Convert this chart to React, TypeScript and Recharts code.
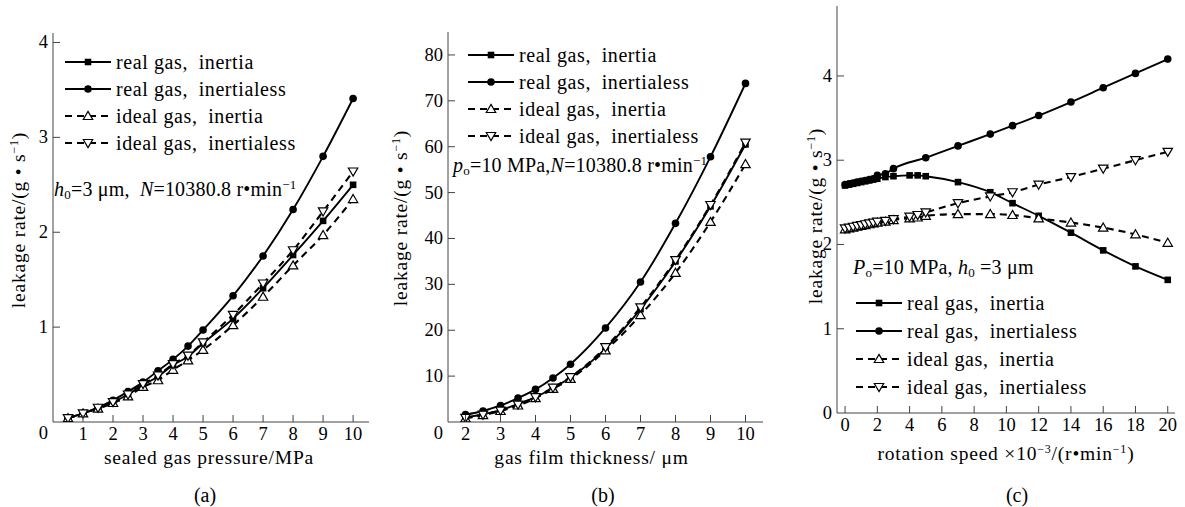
import React from "react";
import { LineChart, Line, XAxis, YAxis, Legend } from "recharts";

const FONT = "'Liberation Serif', 'Times New Roman', serif";
const INK = "#000";
const AXIS = "#444";

// (a) leakage rate vs sealed gas pressure (MPa)
const pressure = [0.5, 1, 1.5, 2, 2.5, 3, 3.5, 4, 4.5, 5, 6, 7, 8, 9, 10];
const realInertiaA = [0.04, 0.09, 0.15, 0.21, 0.29, 0.39, 0.48, 0.6, 0.69, 0.83, 1.09, 1.41, 1.76, 2.12, 2.5];
const realInertialessA = [0.04, 0.09, 0.15, 0.23, 0.32, 0.42, 0.54, 0.66, 0.8, 0.97, 1.33, 1.75, 2.24, 2.8, 3.41];
const idealInertiaA = [0.04, 0.09, 0.14, 0.2, 0.27, 0.37, 0.44, 0.55, 0.65, 0.76, 1.02, 1.32, 1.65, 1.97, 2.35];
const idealInertialessA = [0.04, 0.09, 0.15, 0.21, 0.29, 0.4, 0.49, 0.61, 0.7, 0.84, 1.13, 1.46, 1.81, 2.22, 2.64];

// (b) leakage rate vs gas film thickness (um)
const thickness = [2, 2.5, 3, 3.5, 4, 4.5, 5, 6, 7, 8, 9, 10];
const realInertiaB = [1.0, 1.7, 2.6, 3.9, 5.4, 7.4, 9.7, 16.0, 24.6, 35.0, 47.0, 60.5];
const realInertialessB = [1.6, 2.4, 3.6, 5.2, 7.1, 9.6, 12.6, 20.5, 30.5, 43.3, 57.8, 73.8];
const idealInertiaB = [0.8, 1.5, 2.4, 3.6, 5.2, 7.2, 9.4, 15.6, 23.3, 32.5, 43.6, 56.2];
const idealInertialessB = [0.9, 1.6, 2.5, 3.8, 5.4, 7.5, 9.8, 16.3, 25.0, 35.3, 47.3, 60.9];

// (c) leakage rate vs rotation speed (x10^3 r/min)
const speed = [0, 0.25, 0.5, 0.75, 1, 1.25, 1.5, 1.75, 2, 2.5, 3, 4, 4.5, 5, 7, 9, 10.38, 12, 14, 16, 18, 20];
const realInertiaC = [2.7, 2.71, 2.72, 2.73, 2.74, 2.75, 2.76, 2.77, 2.78, 2.8, 2.81, 2.82, 2.82, 2.81, 2.74, 2.62, 2.49, 2.34, 2.14, 1.93, 1.74, 1.58];
const realInertialessC = [2.71, 2.72, 2.73, 2.74, 2.75, 2.76, 2.77, 2.78, 2.82, 2.84, 2.9, null, null, 3.03, 3.17, 3.31, 3.41, 3.53, 3.69, 3.86, 4.03, 4.2];
const idealInertiaC = [2.18, 2.19, 2.2, 2.21, 2.22, 2.23, 2.24, 2.25, 2.26, 2.27, 2.29, 2.31, 2.32, 2.34, 2.36, 2.36, 2.35, 2.31, 2.26, 2.2, 2.12, 2.02];
const idealInertialessC = [2.19, 2.2, 2.21, 2.22, 2.23, 2.24, 2.25, 2.26, 2.27, 2.28, 2.3, 2.33, 2.35, 2.38, 2.49, 2.57, 2.62, 2.71, 2.8, 2.9, 3.0, 3.1];

const SERIES = [
  { key: "realInertia", name: "real gas,\u2002inertia", shape: "square", dash: undefined, width: 1.9 },
  { key: "realInertialess", name: "real gas,\u2002inertialess", shape: "circle", dash: undefined, width: 1.9 },
  { key: "idealInertia", name: "ideal gas,\u2002inertia", shape: "up", dash: "7 5", width: 2.1 },
  { key: "idealInertialess", name: "ideal gas,\u2002inertialess", shape: "down", dash: "7 5", width: 2.1 },
];

const build = (xs: number[], a: any[], b: any[], c: any[], d: any[]) =>
  xs.map((x, i) => ({ x, realInertia: a[i], realInertialess: b[i], idealInertia: c[i], idealInertialess: d[i] }));

const rowsA = build(pressure, realInertiaA, realInertialessA, idealInertiaA, idealInertialessA);
const rowsB = build(thickness, realInertiaB, realInertialessB, idealInertiaB, idealInertialessB);
const rowsC = build(speed, realInertiaC, realInertialessC, idealInertiaC, idealInertialessC);

function Marker({ cx, cy, shape }: { cx: number; cy: number; shape: string }) {
  if (cx == null || cy == null || isNaN(cy)) return null;
  if (shape === "square") return <rect x={cx - 3.3} y={cy - 3.3} width={6.6} height={6.6} fill={INK} />;
  if (shape === "circle") return <circle cx={cx} cy={cy} r={3.8} fill={INK} />;
  const h = shape === "up" ? 1 : -1;
  const d = `M${cx},${cy - 4.6 * h}L${cx + 4.7},${cy + 3.5 * h}L${cx - 4.7},${cy + 3.5 * h}Z`;
  return <path d={d} fill="#fff" stroke={INK} strokeWidth={1.2} />;
}

const XTick = (props: any) => {
  const { x, y, payload } = props;
  return (
    <g>
      <line x1={x} x2={x} y1={y - 5} y2={y - 12} stroke={AXIS} />
      <text x={x} y={y} dy={13} textAnchor="middle" fontSize={18.5} fontFamily={FONT} fill={INK}>
        {payload.value}
      </text>
    </g>
  );
};

const makeYTick = (zeroDrop: number) => (props: any) => {
  const { x, y, payload } = props;
  const zero = payload.value === 0;
  return (
    <g>
      {!zero && <line x1={x + 5} x2={x + 12} y1={y} y2={y} stroke={AXIS} />}
      <text x={x} y={y + (zero ? zeroDrop : 0)} dy={6} textAnchor="end" fontSize={18.5} fontFamily={FONT} fill={INK}>
        {payload.value}
      </text>
    </g>
  );
};

const yTitle = (cx: number, cy: number) => () =>
  (
    <text
      transform={`translate(${cx},${cy}) rotate(-90)`}
      textAnchor="middle"
      dy={6}
      fontSize={19.5}
      letterSpacing={0.8}
      fontFamily={FONT}
      fill={INK}
    >
      leakage rate/(g • s
      <tspan dy={-7} fontSize={12}>
        −1
      </tspan>
      <tspan dy={7}>)</tspan>
    </text>
  );

const xTitle = (dx: number, dy: number, content: React.ReactNode) => (p: any) => {
  const vb = p.viewBox;
  return (
    <text
      x={vb.x + vb.width / 2 + dx}
      y={vb.y + dy}
      dy={6}
      textAnchor="middle"
      fontSize={19.5}
      letterSpacing={0.8}
      fontFamily={FONT}
      fill={INK}
    >
      {content}
    </text>
  );
};

const renderLegend = (rowH: number) => () =>
  (
    <div style={{ fontFamily: FONT, fontSize: 20, color: INK, letterSpacing: 0.6, lineHeight: 1 }}>
      {SERIES.map((s) => (
        <div key={s.key} style={{ display: "flex", alignItems: "center", height: rowH }}>
          <svg width={46} height={12} style={{ overflow: "visible", flex: "none" }}>
            <line x1={0} y1={6} x2={46} y2={6} stroke={INK} strokeWidth={s.width} strokeDasharray={s.dash} />
            <Marker cx={23} cy={6} shape={s.shape} />
          </svg>
          <span style={{ marginLeft: 5, whiteSpace: "nowrap" }}>{s.name}</span>
        </div>
      ))}
    </div>
  );

type PanelProps = {
  left: number;
  width: number;
  top: number;
  bottom: number;
  plotLeft: number;
  plotRight: number;
  rows: any[];
  xDomain: number[];
  yDomain: number[];
  xTicks: number[];
  yTicks: number[];
  zeroDrop: number;
  xLabel: any;
  yLabel: any;
  legendLeft: number;
  legendTop: number;
  rowH: number;
  note: React.ReactNode;
  noteLeft: number;
  noteTop: number;
  caption: string;
  captionX: number;
};

function Panel(p: PanelProps) {
  const H = 470;
  return (
    <div style={{ position: "absolute", left: p.left, top: 0, width: p.width, height: 507 }}>
      <LineChart
        width={p.width}
        height={H}
        data={p.rows}
        margin={{ top: p.top, right: p.width - p.plotRight, bottom: 0, left: 0 }}
      >
        <XAxis
          dataKey="x"
          type="number"
          domain={p.xDomain}
          ticks={p.xTicks}
          interval={0}
          allowDataOverflow
          height={H - p.bottom}
          tickSize={0}
          tickMargin={5}
          tick={XTick}
          axisLine={{ stroke: AXIS }}
          label={p.xLabel}
        />
        <XAxis xAxisId="top" dataKey="x" type="number" orientation="top" domain={p.xDomain} allowDataOverflow height={0} tick={false} tickLine={false} axisLine={{ stroke: AXIS }} />
        <YAxis
          type="number"
          domain={p.yDomain}
          ticks={p.yTicks}
          interval={0}
          allowDataOverflow
          width={p.plotLeft}
          tickSize={0}
          tickMargin={5}
          tick={makeYTick(p.zeroDrop)}
          axisLine={{ stroke: AXIS }}
          label={p.yLabel}
        />
        <YAxis yAxisId="right" orientation="right" type="number" domain={p.yDomain} allowDataOverflow width={0} tick={false} tickLine={false} axisLine={{ stroke: AXIS }} />
        <Legend
          layout="vertical"
          align="center"
          verticalAlign="middle"
          content={renderLegend(p.rowH)}
          wrapperStyle={{ left: p.legendLeft, top: p.legendTop, width: "auto" }}
        />
        {SERIES.map((s) => (
          <Line
            key={s.key}
            dataKey={s.key}
            name={s.name}
            type="monotone"
            stroke={INK}
            strokeWidth={s.width}
            strokeDasharray={s.dash}
            connectNulls
            activeDot={false}
            isAnimationActive={false}
            dot={(d: any) => (
              <g key={`${s.key}-${d.index}`}>
                <Marker cx={d.cx} cy={d.cy} shape={s.shape} />
              </g>
            )}
          />
        ))}
      </LineChart>
      <div
        style={{
          position: "absolute",
          left: p.noteLeft,
          top: p.noteTop,
          fontFamily: FONT,
          fontSize: 20,
          letterSpacing: 0.2,
          color: INK,
          whiteSpace: "nowrap",
          lineHeight: 1,
        }}
      >
        {p.note}
      </div>
      <div
        style={{
          position: "absolute",
          left: p.captionX - 20,
          width: 40,
          top: 484,
          textAlign: "center",
          fontFamily: FONT,
          fontSize: 20,
          color: INK,
        }}
      >
        {p.caption}
      </div>
    </div>
  );
}

const sub = (t: string) => <sub style={{ fontSize: "0.65em", verticalAlign: "-0.25em" }}>{t}</sub>;
const sup = (t: string) => <sup style={{ fontSize: "0.65em", verticalAlign: "0.5em" }}>{t}</sup>;

export default function App() {
  return (
    <div style={{ position: "absolute", left: 0, top: 0, width: 1185, height: 507, background: "#fff" }}>
      <Panel
        left={0}
        width={380}
        top={33}
        bottom={422}
        plotLeft={53}
        plotRight={369}
        rows={rowsA}
        xDomain={[0, 10.53]}
        yDomain={[0, 4.1]}
        xTicks={[1, 2, 3, 4, 5, 6, 7, 8, 9, 10]}
        yTicks={[0, 1, 2, 3, 4]}
        zeroDrop={11}
        xLabel={xTitle(-2, 36, "sealed gas pressure/MPa")}
        yLabel={yTitle(19, 220)}
        legendLeft={65}
        legendTop={48}
        rowH={27}
        note={
          <>
            <i>h</i>
            {sub("0")}=3 μm,{"\u2002"}<i>N</i>=10380.8 r•min{sup("−1")}
          </>
        }
        noteLeft={54}
        noteTop={178}
        caption="(a)"
        captionX={205}
      />
      <Panel
        left={390}
        width={385}
        top={32}
        bottom={422}
        plotLeft={58}
        plotRight={373}
        rows={rowsB}
        xDomain={[1.5, 10.5]}
        yDomain={[0, 85]}
        xTicks={[2, 3, 4, 5, 6, 7, 8, 9, 10]}
        yTicks={[0, 10, 20, 30, 40, 50, 60, 70, 80]}
        zeroDrop={11}
        xLabel={xTitle(-14, 36, "gas film thickness/ μm")}
        yLabel={yTitle(11, 218)}
        legendLeft={78}
        legendTop={41}
        rowH={27}
        note={
          <>
            <i>p</i>
            {sub("o")}=10 MPa,<i>N</i>=10380.8 r•min{sup("−1")}
          </>
        }
        noteLeft={63}
        noteTop={154}
        caption="(b)"
        captionX={213}
      />
      <Panel
        left={780}
        width={405}
        top={6}
        bottom={413}
        plotLeft={57}
        plotRight={395}
        rows={rowsC}
        xDomain={[-0.5, 20.45]}
        yDomain={[0, 4.83]}
        xTicks={[0, 2, 4, 6, 8, 10, 12, 14, 16, 18, 20]}
        yTicks={[0, 1, 2, 3, 4]}
        zeroDrop={0}
        xLabel={xTitle(0, 41, (
          <>
            rotation speed ×10
            <tspan dy={-7} fontSize={12}>−3</tspan>
            <tspan dy={7}>/(r•min</tspan>
            <tspan dy={-7} fontSize={12}>−1</tspan>
            <tspan dy={7}>)</tspan>
          </>
        ))}
        yLabel={yTitle(36, 216)}
        legendLeft={76}
        legendTop={289}
        rowH={28}
        note={
          <>
            <i>P</i>
            {sub("o")}=10 MPa, <i>h</i>
            {sub("0")} =3 μm
          </>
        }
        noteLeft={73}
        noteTop={257}
        caption="(c)"
        captionX={237}
      />
    </div>
  );
}
